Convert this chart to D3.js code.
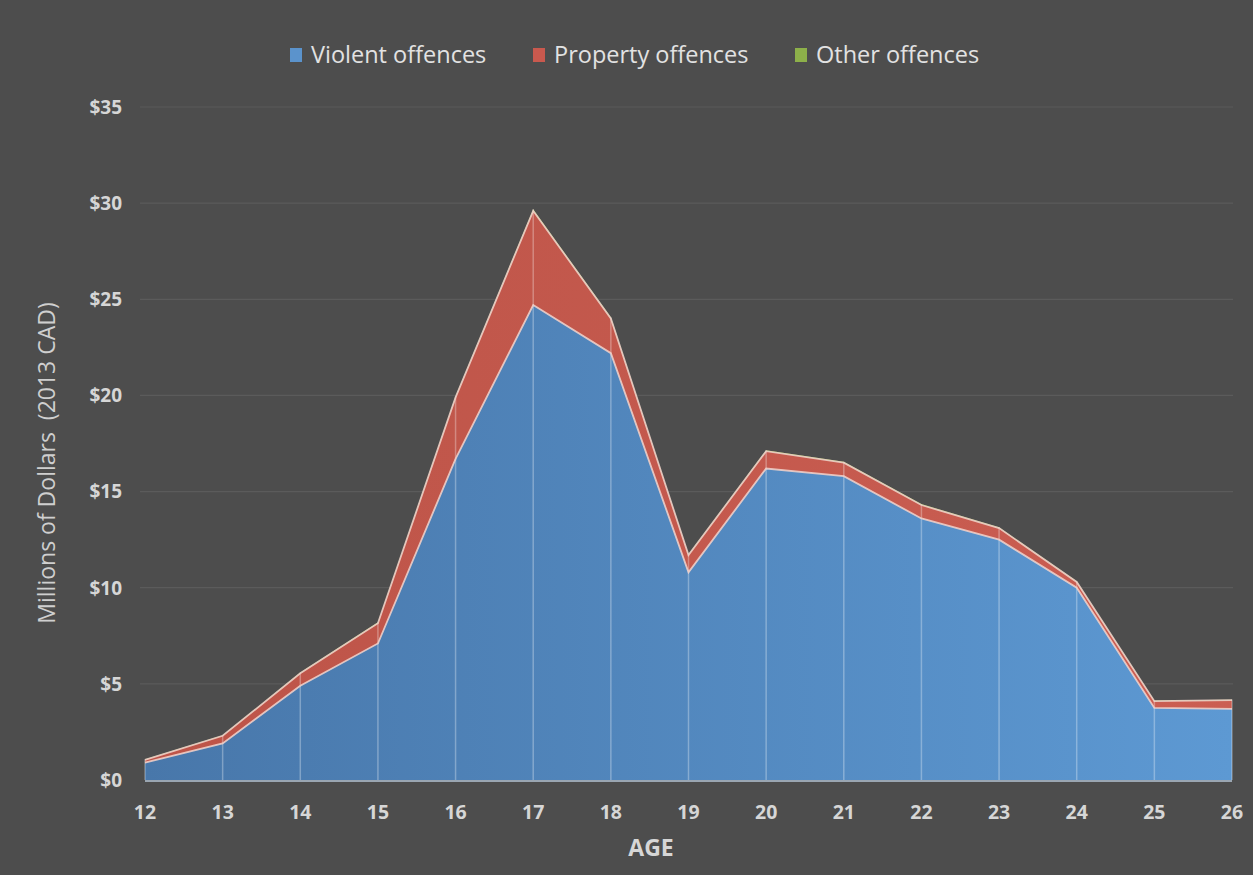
<!DOCTYPE html>
<html><head><meta charset="utf-8">
<script src="https://cdn.jsdelivr.net/npm/d3@7"></script>
<style>
html,body{margin:0;padding:0;background:#4d4d4d;}
svg{display:block;}
</style></head>
<body>
<svg id="chart" width="1253" height="875"></svg>
<script>
const ages = [12,13,14,15,16,17,18,19,20,21,22,23,24,25,26];
const violent  = [0.9,1.9,4.9,7.1,16.7,24.7,22.2,10.8,16.2,15.8,13.6,12.5,10.0,3.75,3.7];
const property = [0.15,0.4,0.65,1.05,3.2,4.9,1.8,0.9,0.9,0.7,0.7,0.6,0.3,0.35,0.45];
const other    = [0.03,0.03,0.04,0.05,0.06,0.08,0.06,0.04,0.05,0.05,0.05,0.04,0.03,0.03,0.03];
const seriesNames = ["Violent offences","Property offences","Other offences"];
const yTicks = [0,5,10,15,20,25,30,35];

const W=1253,H=875;
const FONT="Open Sans, sans-serif";
const svg=d3.select("#chart");
svg.append("rect").attr("width",W).attr("height",H).attr("fill","#4d4d4d");

const x=d3.scaleLinear().domain([12,26]).range([145,1232]);
const y=d3.scaleLinear().domain([0,35]).range([780,107]);

const defs=svg.append("defs");
const gb=defs.append("linearGradient").attr("id","gblue").attr("x1","0%").attr("x2","100%");
gb.append("stop").attr("offset","0%").attr("stop-color","#4877aa");
gb.append("stop").attr("offset","100%").attr("stop-color","#5d99d3");
const gr=defs.append("linearGradient").attr("id","gred").attr("x1","0%").attr("x2","100%");
gr.append("stop").attr("offset","0%").attr("stop-color","#bd5448");
gr.append("stop").attr("offset","100%").attr("stop-color","#cb5e52");

// gridlines
svg.append("g").selectAll("line").data(yTicks.filter(d=>d>0)).join("line")
  .attr("x1",140).attr("x2",1233).attr("y1",d=>y(d)).attr("y2",d=>y(d))
  .attr("stroke","#5b5b5b").attr("stroke-width",1.2);

// stack
const rows=ages.map((a,i)=>({age:a,v:violent[i],p:property[i],o:other[i]}));
const stack=d3.stack().keys(["v","p","o"])(rows);
const fills=["url(#gblue)","url(#gred)","#8db04a"];
const legendFills=["#5b93cc","#c9594e","#8db04a"];
const area=d3.area().x(d=>x(d.data.age)).y0(d=>y(d[0])).y1(d=>y(d[1]));
const line=d3.line().x(d=>x(d.data.age)).y(d=>y(d[1]));

const g=svg.append("g");
g.selectAll("path.a").data(stack).join("path").attr("class","a")
  .attr("d",area).attr("fill",(d,i)=>fills[i]);

// drop lines
g.selectAll("line.drop").data(rows).join("line").attr("class","drop")
  .attr("x1",d=>x(d.age)).attr("x2",d=>x(d.age))
  .attr("y1",y(0)).attr("y2",d=>y(d.v+d.p+d.o))
  .attr("stroke","#ffffff").attr("stroke-opacity",0.3).attr("stroke-width",1.5);

// top edges
g.selectAll("path.l").data(stack.slice(0,2)).join("path").attr("class","l")
  .attr("d",line).attr("fill","none")
  .attr("stroke","#f3d6cf").attr("stroke-opacity",0.85).attr("stroke-width",1.8);

// x axis baseline
svg.append("line").attr("x1",x(12)).attr("x2",x(26)).attr("y1",y(0)+1).attr("y2",y(0)+1)
  .attr("stroke","#9aa6b2").attr("stroke-width",2);

// y tick labels
svg.append("g").selectAll("text").data(yTicks).join("text")
  .attr("x",122).attr("y",d=>y(d)).attr("dy","0.36em")
  .attr("text-anchor","end").attr("fill","#d6d6d6")
  .attr("font-family",FONT).attr("font-weight","bold").attr("font-size",19)
  .text(d=>"$"+d);

// x tick labels
svg.append("g").selectAll("text").data(ages).join("text")
  .attr("x",d=>x(d)).attr("y",812).attr("dy","0.36em")
  .attr("text-anchor","middle").attr("fill","#d6d6d6")
  .attr("font-family",FONT).attr("font-weight","bold").attr("font-size",19.5)
  .text(d=>d);

// axis titles
svg.append("text").attr("x",651).attr("y",848).attr("dy","0.36em").attr("text-anchor","middle")
  .attr("fill","#d6d6d6").attr("font-family",FONT).attr("font-weight","bold")
  .attr("font-size",23).text("AGE");
svg.append("text").attr("transform","translate(47,463) rotate(-90)").attr("dy","0.36em")
  .attr("text-anchor","middle").attr("fill","#cfcfcf").attr("font-family",FONT)
  .attr("font-size",23).attr("xml:space","preserve").text("Millions of Dollars  (2013 CAD)");

// legend
const legX=[290,533,795];
const leg=svg.append("g").selectAll("g").data(seriesNames).join("g")
  .attr("transform",(d,i)=>`translate(${legX[i]},55)`);
leg.append("rect").attr("x",0).attr("y",-7).attr("width",12).attr("height",14)
  .attr("fill",(d,i)=>legendFills[i]);
leg.append("text").attr("x",21).attr("y",0).attr("dy","0.36em").attr("fill","#e2e2e2")
  .attr("font-family",FONT).attr("font-size",23.5).text(d=>d);
</script>
</body></html>
